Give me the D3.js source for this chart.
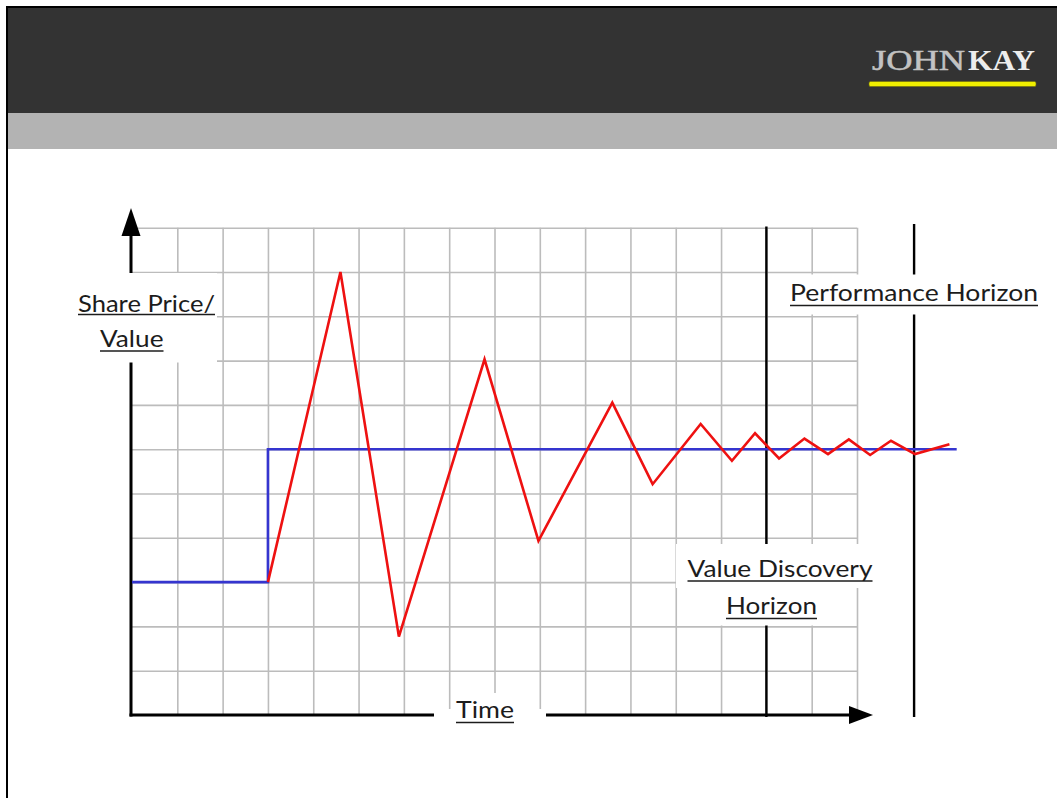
<!DOCTYPE html>
<html>
<head>
<meta charset="utf-8">
<script src="https://cdn.jsdelivr.net/npm/d3@7"></script>
<style>
  html, body { margin: 0; padding: 0; background: #ffffff; }
  svg { display: block; }
</style>
</head>
<body>
<script>
// Fair value: steps up once, then holds
const valueTime = [0, 3, 3, 18.2];
const valueLevel = [3, 3, 6, 6];

// Share price: overshoots and slowly settles on the new value
const priceTime = [3, 4.6, 5.89, 7.78, 8.97, 10.6, 11.49, 12.55, 13.24, 13.75, 14.28, 14.84, 15.36, 15.82, 16.29, 16.75, 17.28, 18.04];
const priceLevel = [3, 10, 1.77, 8.03, 3.93, 7.05, 5.21, 6.57, 5.74, 6.36, 5.79, 6.24, 5.89, 6.22, 5.87, 6.19, 5.89, 6.11];

// Horizon markers on the time axis
const horizonNames = ["Value Discovery Horizon", "Performance Horizon"];
const horizonTime = [14, 17.26];

// Grid extents in time / level units
const gridTimeTicks = d3.range(0, 17);
const gridLevelTicks = d3.range(0, 12);

const W = 1057, H = 798;
const svg = d3.select("body").append("svg").attr("width", W).attr("height", H);

// ---- slide frame & header ----
svg.append("rect").attr("x", 8).attr("y", 8).attr("width", W - 8).attr("height", 105).attr("fill", "#333333");
svg.append("rect").attr("x", 8).attr("y", 113).attr("width", W - 8).attr("height", 36).attr("fill", "#b3b3b3");
svg.append("rect").attr("x", 6).attr("y", 6).attr("width", 2).attr("height", H - 6).attr("fill", "#000");
svg.append("rect").attr("x", 6).attr("y", 6).attr("width", W - 6).attr("height", 2).attr("fill", "#000");

// logo
const logo = svg.append("g").attr("font-family", "'Liberation Serif', 'DejaVu Serif', serif");
logo.append("text").attr("x", 872).attr("y", 69.5).attr("font-size", 29)
  .attr("textLength", 93).attr("lengthAdjust", "spacingAndGlyphs")
  .attr("fill", "#c2c2c2").attr("stroke", "#c2c2c2").attr("stroke-width", 0.5).text("JOHN");
logo.append("text").attr("x", 968).attr("y", 69.5).attr("font-size", 29).attr("font-weight", "bold")
  .attr("textLength", 67).attr("lengthAdjust", "spacingAndGlyphs")
  .attr("fill", "#ededed").text("KAY");
logo.append("rect").attr("x", 869).attr("y", 81.5).attr("width", 167).attr("height", 5)
  .attr("rx", 1.5).attr("fill", "#f0ef00").attr("stroke", "#6b6a10").attr("stroke-width", 0.6);

// ---- scales ----
const x = d3.scaleLinear().domain([0, 16]).range([132, 857]);
const y = d3.scaleLinear().domain([0, 11]).range([715, 227.7]);

// ---- grid via axis generators ----
const gridColor = "#bcbcbc";
const gx = svg.append("g").attr("transform", `translate(0,${y(0)})`)
  .call(d3.axisBottom(x).tickValues(gridTimeTicks.slice(1)).tickSize(-(y(0) - y(11))).tickFormat(""));
const gy = svg.append("g").attr("transform", `translate(${x(0)},0)`)
  .call(d3.axisLeft(y).tickValues(gridLevelTicks.slice(1)).tickSize(-(x(16) - x(0))).tickFormat(""));
[gx, gy].forEach(g => {
  g.select(".domain").remove();
  g.selectAll(".tick line").attr("stroke", gridColor).attr("stroke-width", 1.6);
});

// ---- horizon verticals ----
svg.append("g").selectAll("line").data(horizonTime).join("line")
  .attr("x1", d => x(d)).attr("x2", d => x(d))
  .attr("y1", (d, i) => i === 0 ? 226.5 : 224).attr("y2", 717)
  .attr("stroke", "#000").attr("stroke-width", 2.4);

// ---- axes with arrowheads ----
const axisG = svg.append("g");
axisG.append("line").attr("x1", x(0) - 1).attr("x2", x(0) - 1).attr("y1", y(0) + 1.5).attr("y2", 233)
  .attr("stroke", "#000").attr("stroke-width", 3);
axisG.append("path").attr("d", `M${x(0) - 1},208 L${x(0) - 10.5},236 L${x(0) + 8.5},236 Z`).attr("fill", "#000");
axisG.append("line").attr("x1", x(0) - 2.5).attr("x2", 852).attr("y1", y(0)).attr("y2", y(0))
  .attr("stroke", "#000").attr("stroke-width", 3);
axisG.append("path").attr("d", `M873,${y(0)} L849,${y(0) - 9} L849,${y(0) + 9} Z`).attr("fill", "#000");

// ---- series ----
const line = d3.line().x(d => x(d[0])).y(d => y(d[1]));
svg.append("path").datum(d3.zip(valueTime, valueLevel)).attr("d", line)
  .attr("fill", "none").attr("stroke", "#3535cf").attr("stroke-width", 2.6);
svg.append("path").datum(d3.zip(priceTime, priceLevel)).attr("d", line)
  .attr("fill", "none").attr("stroke", "#ee1111").attr("stroke-width", 2.6).attr("stroke-linejoin", "miter");

// ---- label backgrounds ----
const bg = svg.append("g").attr("fill", "#ffffff");
bg.append("rect").attr("x", 60).attr("y", 273).attr("width", 157).attr("height", 89.5);   // y-axis label
bg.append("rect").attr("x", 434).attr("y", 709).attr("width", 112).attr("height", 30);    // time label, axis gap
bg.append("rect").attr("x", 452).attr("y", 693).attr("width", 84).attr("height", 20);
bg.append("rect").attr("x", 676).attr("y", 544).attr("width", 204).attr("height", 44);    // value discovery
bg.append("rect").attr("x", 716).attr("y", 587).attr("width", 112).attr("height", 38.5);
bg.append("rect").attr("x", 785).attr("y", 274.5).attr("width", 262).attr("height", 40);  // performance

// ---- underlined labels ----
const labels = [
  { text: "Share Price/", x: 78, y: 311.5, w: 137, u: 314.5 },
  { text: "Value", x: 100, y: 346.5, w: 63.5, u: 351 },
  { text: "Time", x: 456, y: 718, w: 58, u: 722.5 },
  { text: "Value Discovery", x: 687.5, y: 576.5, w: 185, u: 581 },
  { text: "Horizon", x: 726, y: 613.5, w: 91, u: 618.5 },
  { text: "Performance Horizon", x: 790, y: 300.5, w: 248, u: 305.5 }
];
const lg = svg.append("g").attr("font-family", "Lato, 'Open Sans', sans-serif").attr("font-size", 24).attr("fill", "#1c1c1c");
lg.selectAll("text").data(labels).join("text")
  .attr("x", d => d.x).attr("y", d => d.y)
  .attr("textLength", d => d.w).attr("lengthAdjust", "spacingAndGlyphs")
  .text(d => d.text);
lg.selectAll("line").data(labels).join("line")
  .attr("x1", d => d.x).attr("x2", d => d.x + d.w)
  .attr("y1", d => d.u).attr("y2", d => d.u)
  .attr("stroke", "#1c1c1c").attr("stroke-width", 1.6);
</script>
</body>
</html>
